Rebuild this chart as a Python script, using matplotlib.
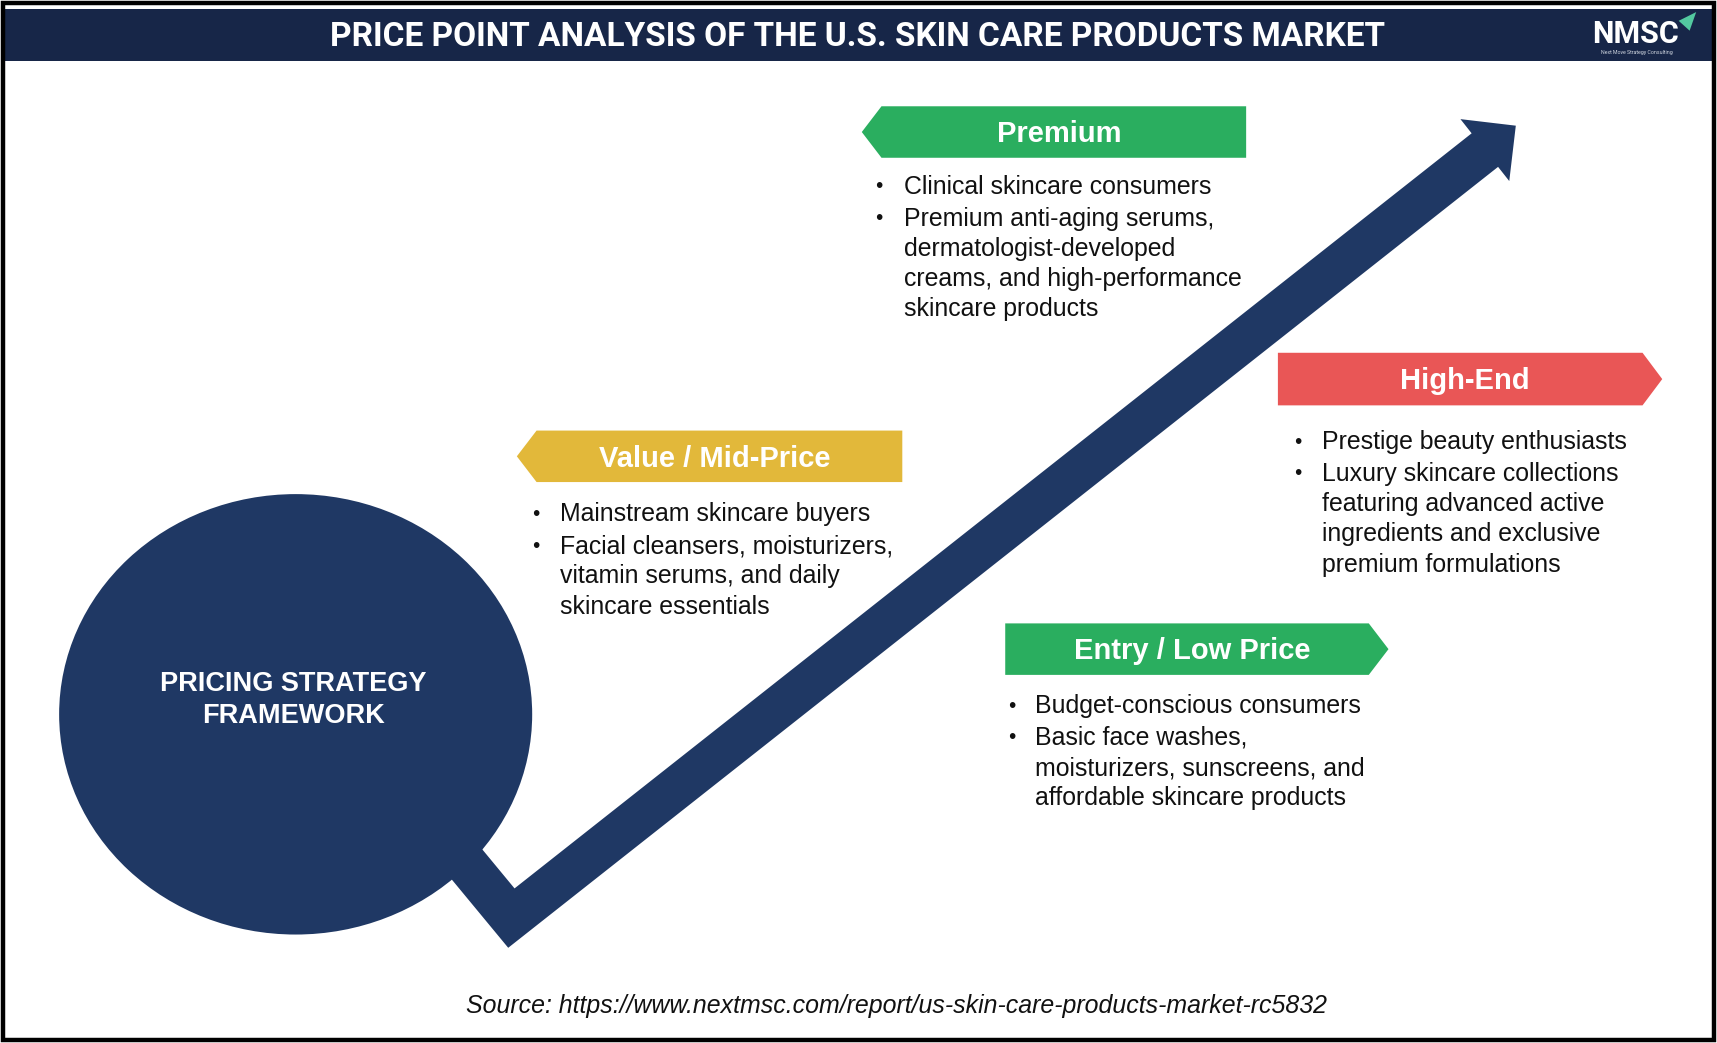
import matplotlib
matplotlib.use("Agg")
import matplotlib.pyplot as plt
from matplotlib.patches import Polygon, Rectangle, Ellipse
import numpy as np

# ---------------- content ----------------
title = "PRICE POINT ANALYSIS OF THE U.S. SKIN CARE PRODUCTS MARKET"
center_label = "PRICING STRATEGY\nFRAMEWORK"
source = "Source: https://www.nextmsc.com/report/us-skin-care-products-market-rc5832"

tiers = ["Premium", "High-End", "Value / Mid-Price", "Entry / Low Price"]
tier_colors = ["#2aae5f", "#e95656", "#e2b83a", "#2aae5f"]
tier_bullets = [
    ["Clinical skincare consumers",
     "Premium anti-aging serums,\ndermatologist-developed\ncreams, and high-performance\nskincare products"],
    ["Prestige beauty enthusiasts",
     "Luxury skincare collections\nfeaturing advanced active\ningredients and exclusive\npremium formulations"],
    ["Mainstream skincare buyers",
     "Facial cleansers, moisturizers,\nvitamin serums, and daily\nskincare essentials"],
    ["Budget-conscious consumers",
     "Basic face washes,\nmoisturizers, sunscreens, and\naffordable skincare products"],
]

# ---------------- layout (display units, y down) ----------------
W, H = 1568, 952

# banner: (x_left, x_right, y_top, y_bottom, direction)
banners = [
    (805, 1138, 97, 144, "left"),
    (1167, 1500, 322, 370, "right"),
    (490, 824, 393, 440, "left"),
    (918, 1250, 569, 616, "right"),
]
# bullet block: (bullet_x, text_x, first_line_y)
bullet_pos = [(803, 826, 170.5), (1185, 1207, 403.5), (489, 511, 469.5), (924, 945, 644.5)]
line_h = 27.6
item_gap = 29.0

navy = "#1f3864"
bar = "#172648"

fig = plt.figure(figsize=(17.17, 10.43), dpi=100)
ax = fig.add_axes([0, 0, 1, 1])
ax.set_xlim(0, W)
ax.set_ylim(H, 0)
ax.axis("off")

# outer frame
ax.add_patch(Rectangle((2.5, 2.5), W - 5, H - 5, fill=False, ec="black", lw=3.2, zorder=10))
# title bar
ax.add_patch(Rectangle((4, 8), W - 8, 48, fc=bar, ec="none", zorder=1))
ax.text(783, 34, title, color="white", fontsize=24, fontweight="bold",
        family="Roboto", ha="center", va="center", zorder=2)

# logo
ax.text(1494, 31, "NMSC", color="white", fontsize=22, fontweight="bold", family="Roboto",
        ha="center", va="center", zorder=2)
ax.text(1495, 48, "Next Move Strategy Consulting", color="#d0d6e0", fontsize=3.8,
        family="Roboto", ha="center", va="center", zorder=2)
ax.add_patch(Polygon([(1533, 19), (1549, 11), (1543, 28)], closed=True, fc="#53c9a0",
                     ec="none", zorder=2))

# circle
ax.add_patch(Ellipse((270, 652), 432, 402, fc=navy, ec="none", zorder=3))
ax.text(268, 639, center_label, color="white", fontsize=19.5, fontweight="bold",
        family="Liberation Sans", ha="center", va="center", linespacing=1.33, zorder=4)

# zig-zag arrow built from a centre line with constant half-width
def offset_path(p0, p1, p2, hw):
    p0, p1, p2 = map(np.array, (p0, p1, p2))
    d1 = (p1 - p0) / np.linalg.norm(p1 - p0)
    d2 = (p2 - p1) / np.linalg.norm(p2 - p1)
    n1 = np.array([-d1[1], d1[0]])
    n2 = np.array([-d2[1], d2[0]])
    m = n1 + n2
    m = m / np.linalg.norm(m)
    k = hw / np.dot(m, n1)
    a = [p0 + hw * n1, p1 + k * m, p2 + hw * n2]
    b = [p0 - hw * n1, p1 - k * m, p2 - hw * n2]
    return a, b, d2, n2

start, corner, head_base = (400, 757), (467, 838), (1356, 137)
hw = 19.5
a, b, d2, n2 = offset_path(start, corner, head_base, hw)
hb = np.array(head_base)
head_hw = 36
head_len = 36
tip = hb + head_len * d2
poly = [a[0], a[1], a[2], hb + head_hw * n2, tip, hb - head_hw * n2, b[2], b[1], b[0]]
ax.add_patch(Polygon(poly, closed=True, fc=navy, ec="none", zorder=3))

# banners and bullets
for i, name in enumerate(tiers):
    x0, x1, y0, y1, direc = banners[i]
    ym = (y0 + y1) / 2
    pt = 18
    if direc == "left":
        pts = [(x0, y0), (x1, y0), (x1, y1), (x0, y1), (x0 - pt, ym)]
        dx = -4.5
    else:
        pts = [(x0, y0), (x1, y0), (x1 + pt, ym), (x1, y1), (x0, y1)]
        dx = 4.5
    ax.add_patch(Polygon(pts, closed=True, fc=tier_colors[i], ec="none", zorder=3))
    ax.text((x0 + x1) / 2 + dx, ym + 2, name, color="white",
            fontsize=21, fontweight="bold", family="Liberation Sans",
            ha="center", va="center", zorder=4)

    bx, tx, y = bullet_pos[i]
    for item in tier_bullets[i]:
        lines = item.split("\n")
        ax.text(bx, y, "\u2022", fontsize=15, family="Liberation Sans", color="#111111",
                ha="center", va="center", zorder=4)
        for j, ln in enumerate(lines):
            ax.text(tx, y + j * line_h, ln, fontsize=17.9, family="Liberation Sans",
                    color="#111111", ha="left", va="center", zorder=4)
        y += (len(lines) - 1) * line_h + item_gap

# source
ax.text(819, 918, source, fontsize=17.9, family="Liberation Sans", style="italic",
        color="#111111", ha="center", va="center", zorder=4)

fig.savefig("out.png", dpi=100, facecolor="white")
